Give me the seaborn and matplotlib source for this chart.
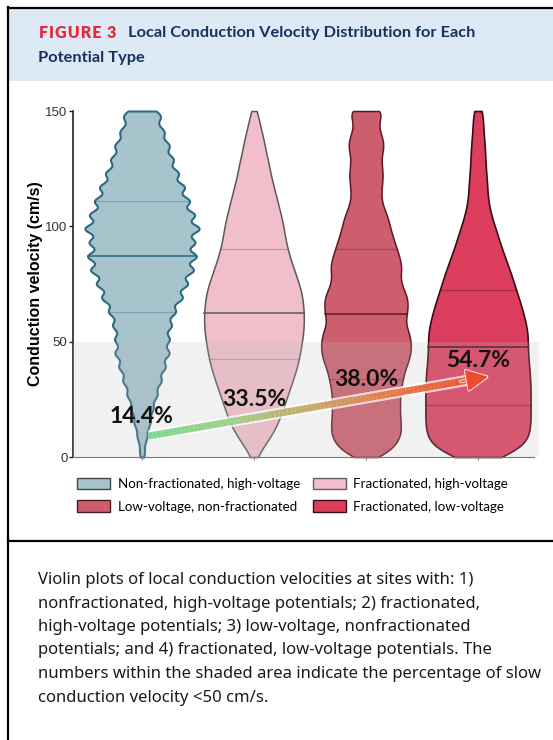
import numpy as np
import pandas as pd
import seaborn as sns
import matplotlib.pyplot as plt
import matplotlib.patheffects as pe
from matplotlib.patches import Patch, Rectangle
from matplotlib.collections import LineCollection
from matplotlib.colors import LinearSegmentedColormap

types = ["Non-fractionated, high-voltage", "Fractionated, high-voltage",
         "Low-voltage, non-fractionated", "Fractionated, low-voltage"]

# conduction velocity levels (cm/s) and number of sites at each
nfhv_cv = [0, 3, 9, 15, 21, 27, 33, 39, 45, 51, 57, 63, 69, 75, 81, 87, 93, 99,
           105, 111, 117, 123, 129, 135, 141, 147, 150]
nfhv_n = [1, 2, 5, 8, 11, 15, 19, 23, 27, 27, 29, 33, 40, 45, 51, 54, 52, 57,
          52, 47, 42, 36, 31, 27, 22, 15, 8]

fhv_cv = [0, 2.5, 7.5, 12.5, 17.5, 22.5, 27.5, 32.5, 37.5, 42.5, 47.5,
          52.5, 57.5, 62.5, 67.5, 72.5, 77.5, 82.5, 87.5, 92.5, 97.5,
          102.5, 107.5, 112.5, 117.5, 122.5, 127.5, 132.5, 137.5, 142.5, 147.5, 150]
fhv_n = [1, 6, 15, 22, 27, 31, 35, 39, 43, 46, 48,
         50, 51, 51, 50, 48, 44, 40, 36, 33, 31,
         29, 26, 23, 20, 17, 15, 12, 10, 7, 4, 1]

lvnf_cv = [0, 2, 6, 10, 14, 18, 22, 26, 30, 34, 38, 42, 46,
           50, 54, 58, 62, 66, 70, 74, 78, 82, 86, 90, 94, 98,
           102, 106, 110, 114, 118, 122, 126, 130, 134, 138, 142, 146, 150]
lvnf_n = [1, 22, 31, 35, 35, 34, 34, 34, 35, 37, 39, 43, 45,
          45, 43, 39, 41, 42, 41, 36, 34, 36, 34, 31, 28, 25,
          23, 20, 16, 15, 16, 17, 16, 15, 18, 17, 13, 13, 18]

flv_cv = [0, 2.5, 7.5, 12.5, 17.5, 22.5, 27.5, 32.5, 37.5, 42.5, 47.5,
          52.5, 57.5, 62.5, 67.5, 72.5, 77.5, 82.5, 87.5, 92.5, 97.5,
          102.5, 107.5, 112.5, 117.5, 122.5, 127.5, 132.5, 137.5, 142.5, 147.5, 150]
flv_n = [1, 42, 48, 50, 50, 50, 50, 50, 49, 48, 47,
         48, 46, 43, 40, 36, 33, 29, 25, 21, 18,
         14, 11, 9, 9, 8, 7, 7, 6, 5, 4, 3]

slow_pct = ["14.4%", "33.5%", "38.0%", "54.7%"]
pct_y = [17.4, 24.8, 33.5, 42.0]

caption = ["Violin plots of local conduction velocities at sites with: 1)",
           "nonfractionated, high-voltage potentials; 2) fractionated,",
           "high-voltage potentials; 3) low-voltage, nonfractionated",
           "potentials; and 4) fractionated, low-voltage potentials. The",
           "numbers within the shaded area indicate the percentage of slow",
           "conduction velocity <50 cm/s."]

cv_levels = [nfhv_cv, fhv_cv, lvnf_cv, flv_cv]
cv_counts = [nfhv_n, fhv_n, lvnf_n, flv_n]
df = pd.concat([pd.DataFrame({"potential": t, "cv": np.repeat(v, n)})
                for t, v, n in zip(types, cv_levels, cv_counts)], ignore_index=True)

fills = ["#a7c3cc", "#f0bfcb", "#cc5e6e", "#dd3e5e"]
edges = ["#2c6a82", "#5a5a5a", "#5e1a26", "#3a0c16"]
edge_lw = [1.5, 1.1, 1.1, 1.2]
widths = [1.02, 0.89, 0.80, 0.94]
kernel_sd = [2.55, 3.5, 2.8, 4.5]  # cm/s

W, H = 553, 740
fig = plt.figure(figsize=(W / 100, H / 100), dpi=100)


def fx(px):
    return px / W


def fy(py):
    return 1 - py / H


# page furniture: header band, frame, divider
fig.add_artist(Rectangle((fx(9), fy(81)), 1 - fx(9), fy(9) - fy(81), transform=fig.transFigure,
                         facecolor="#dde9f5", edgecolor="none", zorder=0))
for xs, ys in [([fx(8), fx(8)], [0, fy(7)]), ([fx(8), 1], [fy(8), fy(8)]), ([fx(8), 1], [fy(541), fy(541)])]:
    fig.add_artist(plt.Line2D(xs, ys, color="black", lw=1.6, transform=fig.transFigure))

fig.text(fx(38), fy(33), "\u200aF\u200aI\u200aG\u200aU\u200aR\u200aE\u200a \u200a3", color="#e32d3c",
         fontweight="heavy", fontsize=11.5, family=["Lato", "DejaVu Sans"], va="center")
fig.text(fx(128), fy(33), "Local Conduction Velocity Distribution for Each", color="#17325e",
         fontweight="bold", fontsize=11.8, family="Lato", va="center")
fig.text(fx(38), fy(58), "Potential Type", color="#17325e", fontweight="bold", fontsize=11.8,
         family="Lato", va="center")

ax = fig.add_axes([fx(73), fy(457), fx(539) - fx(73), fy(111) - fy(457)])

for i, name in enumerate(types):
    sub = df[df["potential"] == name]
    n_lines, n_coll = len(ax.lines), len(ax.collections)
    sns.violinplot(data=sub, x="potential", y="cv", order=types, color=fills[i], saturation=1,
                   linecolor=edges[i], linewidth=edge_lw[i], inner="quart", cut=0, gridsize=400,
                   bw_method=kernel_sd[i] / sub["cv"].std(), width=widths[i],
                   density_norm="width", ax=ax)
    for c in ax.collections[n_coll:]:
        c.set_clip_on(False)
    for j, ln in enumerate(ax.lines[n_lines:]):
        ln.set_linestyle("-")
        ln.set_color(edges[i])
        ln.set_linewidth(1.3 if j == 1 else 0.9)
        ln.set_alpha(0.85 if j == 1 else 0.35)

# slow conduction zone (<50 cm/s)
ax.axhspan(0, 50, facecolor="#bdbdbd", alpha=0.2, lw=0, zorder=3)

# gradient arrow
arrow_start = np.array([0.06, 9.1])
arrow_tip = np.array([3.09, 34.8])
t = np.linspace(0, 0.95, 80)
pts = arrow_start + t[:, None] * (arrow_tip - arrow_start)
segs = np.stack([pts[:-1], pts[1:]], axis=1)
cmap = LinearSegmentedColormap.from_list("grad", ["#7fd890", "#9fd08a", "#c9a86c", "#e67a48", "#f2502e"])
ax.plot(pts[[0, -1], 0], pts[[0, -1], 1], color="white", lw=8, alpha=0.75, zorder=4,
        solid_capstyle="butt")
ax.add_collection(LineCollection(segs, colors=cmap(t[:-1] / 0.95), linewidth=5,
                                 capstyle="butt", zorder=5))
head_base = arrow_start + 0.92 * (arrow_tip - arrow_start)
ann = ax.annotate("", xy=tuple(arrow_tip), xytext=tuple(head_base),
                  arrowprops=dict(arrowstyle="-|>,head_length=1.4,head_width=0.7",
                                  color="#f04a2c", lw=1, shrinkA=0, shrinkB=0), zorder=5)
ann.arrow_patch.set_path_effects([pe.withStroke(linewidth=2.5, foreground="white", alpha=0.8)])

for i, lab in enumerate(slow_pct):
    ax.text(i, pct_y[i], lab, ha="center", va="center", fontsize=16.5, fontweight="bold",
            family="Lato", color="#111111", zorder=7)

ax.set_xlim(-0.616, 3.545)
ax.set_ylim(0, 150)
ax.set_yticks([0, 50, 100, 150])
ax.set_yticklabels(["0", "50", "100", "150"], family="Liberation Sans")
ax.set_xticks(range(4))
ax.tick_params(axis="y", length=3, width=1, pad=1, labelsize=9.5, labelcolor="#333333", color="#222222")
ax.tick_params(axis="x", length=2.5, width=0.8, color="#888888", labelbottom=False)
ax.set_xlabel("")
ax.set_ylabel("Conduction velocity (cm/s)", fontsize=11.5, fontweight="bold",
              family="Liberation Sans", va="center")
ax.yaxis.set_label_coords((36 - 73) / (539 - 73), 0.5)
for s in ["top", "right"]:
    ax.spines[s].set_visible(False)
ax.spines["left"].set_color("#222222")
ax.spines["left"].set_linewidth(1.2)
ax.spines["bottom"].set_color("#777777")
ax.spines["bottom"].set_linestyle((0, (1, 1)))
ax.spines["bottom"].set_bounds(-0.616, 3.51)

legend_edges = ["#3c4a50", "#6a5a5e", "#4a1a22", "#3a0c16"]
handles = [Patch(facecolor=fills[i], edgecolor=legend_edges[i], linewidth=1, label=types[i])
           for i in [0, 2, 1, 3]]
fig.legend(handles=handles, ncol=2, loc="upper left", bbox_to_anchor=(fx(77), fy(478)),
           frameon=False, prop={"family": "Lato", "size": 9.6}, handlelength=2.5, handleheight=0.95,
           handletextpad=0.55, columnspacing=0.95, labelspacing=0.75, borderpad=0, borderaxespad=0)

for k, line in enumerate(caption):
    fig.text(fx(38), fy(580 + 23.5 * k), line, fontsize=12, family="Noto Sans", va="center",
             color="#1a1a1a")

fig.savefig("out.png", dpi=100)
